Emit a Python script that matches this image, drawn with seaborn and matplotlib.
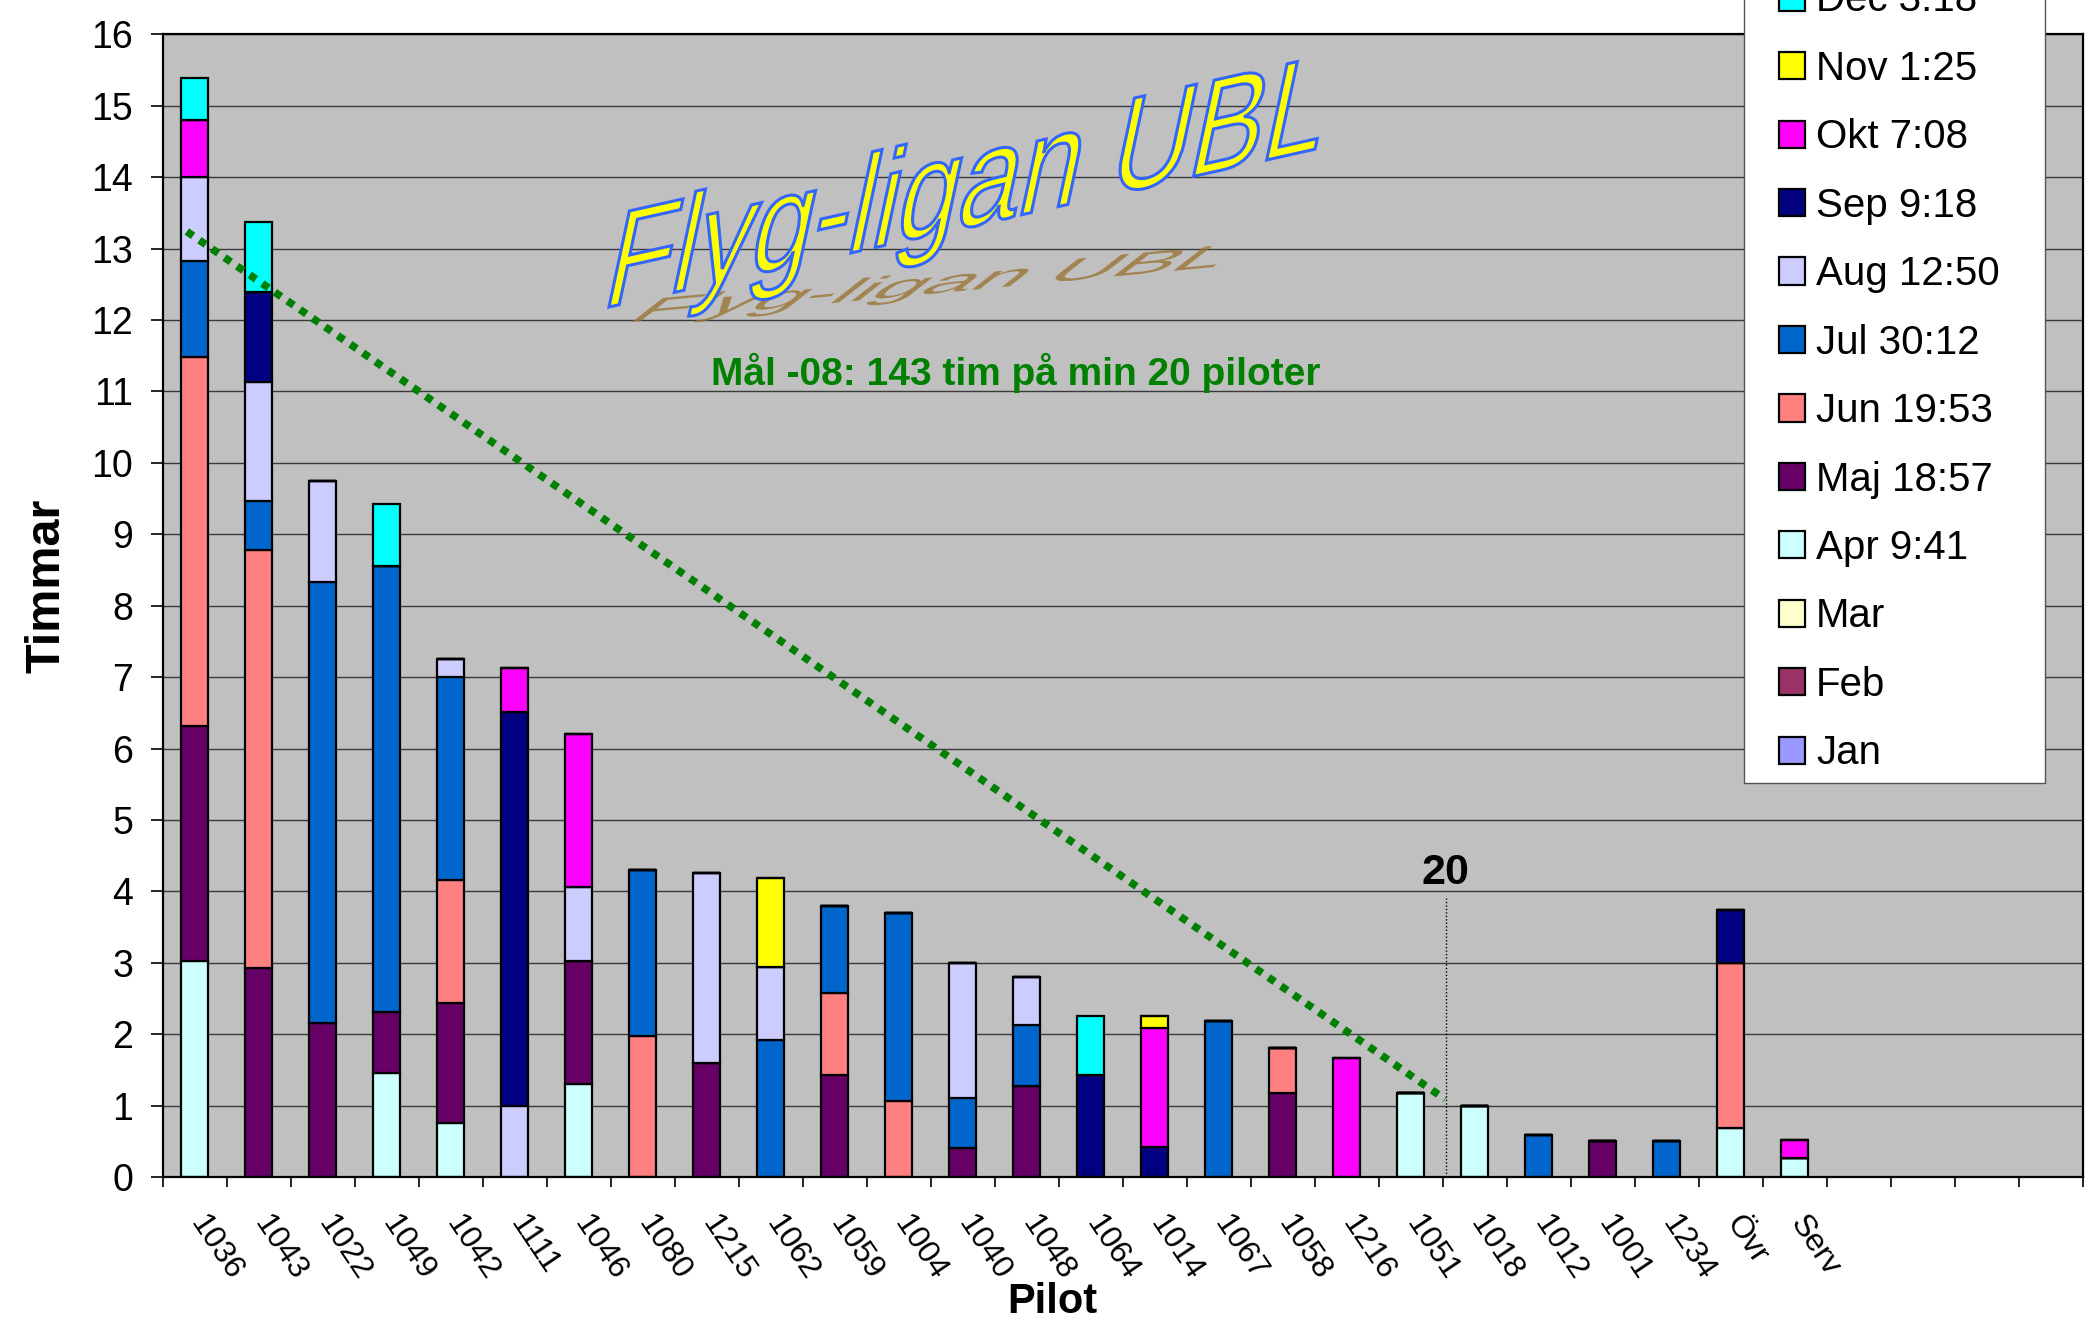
import numpy as np
import matplotlib
matplotlib.use("Agg")
import matplotlib.pyplot as plt
import seaborn as sns
from matplotlib.textpath import TextPath
from matplotlib.font_manager import FontProperties
from matplotlib.patches import PathPatch, Rectangle
from matplotlib.transforms import Affine2D, IdentityTransform, ScaledTranslation

plt.rcParams["font.family"] = ["Liberation Sans", "DejaVu Sans"]

# pilots in chart order
pilots = ["1036", "1043", "1022", "1049", "1042", "1111", "1046", "1080", "1215", "1062",
          "1059", "1004", "1040", "1048", "1064", "1014", "1067", "1058", "1216", "1051",
          "1018", "1012", "1001", "1234", "Övr", "Serv"]

# hours per month for each pilot
jan = [0] * 26
feb = [0] * 26
mar = [0] * 26
apr = [3.03, 0, 0, 1.46, 0.76, 0, 1.30, 0, 0, 0, 0, 0, 0, 0, 0, 0, 0, 0, 0, 1.17, 1.00, 0, 0, 0, 0.69, 0.27]
maj = [3.28, 2.92, 2.16, 0.85, 1.68, 0, 1.72, 0, 1.60, 0, 1.43, 0, 0.41, 1.27, 0, 0, 0, 1.18, 0, 0, 0, 0, 0.50, 0, 0, 0]
jun = [5.17, 5.86, 0, 0, 1.72, 0, 0, 1.97, 0, 0, 1.14, 1.06, 0, 0, 0, 0, 0, 0.62, 0, 0, 0, 0, 0, 0, 2.31, 0]
jul = [1.35, 0.69, 6.17, 6.24, 2.84, 0, 0, 2.33, 0, 1.92, 1.23, 2.63, 0.69, 0.86, 0, 0, 2.18, 0, 0, 0, 0, 0.585, 0, 0.50, 0, 0]
aug = [1.18, 1.66, 1.41, 0, 0.26, 1.00, 1.04, 0, 2.65, 1.02, 0, 0, 1.90, 0.67, 0, 0, 0, 0, 0, 0, 0, 0, 0, 0, 0, 0]
sep = [0, 1.26, 0, 0, 0, 5.51, 0, 0, 0, 0, 0, 0, 0, 0, 1.43, 0.42, 0, 0, 0, 0, 0, 0, 0, 0, 0.74, 0]
okt = [0.79, 0, 0, 0, 0, 0.62, 2.14, 0, 0, 0, 0, 0, 0, 0, 0, 1.67, 0, 0, 1.67, 0, 0, 0, 0, 0, 0, 0.25]
nov = [0, 0, 0, 0, 0, 0, 0, 0, 0, 1.24, 0, 0, 0, 0, 0, 0.16, 0, 0, 0, 0, 0, 0, 0, 0, 0, 0]
dec = [0.59, 0.99, 0, 0.87, 0, 0, 0, 0, 0, 0, 0, 0, 0, 0, 0.82, 0, 0, 0, 0, 0, 0, 0, 0, 0, 0, 0]

series = [jan, feb, mar, apr, maj, jun, jul, aug, sep, okt, nov, dec]
month_labels = ["Jan", "Feb", "Mar", "Apr 9:41", "Maj 18:57", "Jun 19:53", "Jul 30:12",
                "Aug 12:50", "Sep 9:18", "Okt 7:08", "Nov 1:25", "Dec 3:18"]
month_colors = ["#9999FF", "#993366", "#FFFFCC", "#CCFFFF", "#660066", "#FF8080", "#0066CC",
                "#CCCCFF", "#000080", "#FF00FF", "#FFFF00", "#00FFFF"]

# goal line: 143 h over at least 20 pilots
goal_x = [-0.12, 19.54]
goal_y = [13.24, 1.09]
mark_pos = 19.55
mark_top = 3.9

W, H = 2089, 1319
fig = plt.figure(figsize=(W / 100, H / 100), dpi=100)
ax = fig.add_axes([162.5 / W, 142 / H, 1920 / W, 1142.6 / H])
ax.set_facecolor("#C0C0C0")

bottom = np.zeros(len(pilots))
for vals, lab, col in zip(series, month_labels, month_colors):
    vals = np.array(vals, dtype=float)
    sns.barplot(x=pilots, y=vals, order=pilots, color=col, saturation=1, width=0.42,
                bottom=bottom, edgecolor="black", linewidth=1.6, errorbar=None,
                label=lab, ax=ax, zorder=2)
    bottom += vals

# goal line and the "20" marker
ax.plot(goal_x, goal_y, color="#008000", lw=5.5, linestyle=(0, (1, 1)),
        dash_capstyle="butt", zorder=4)
ax.plot([mark_pos, mark_pos], [0, mark_top], color="black", lw=1, linestyle=(0, (1, 1.5)), zorder=4)
ax.text(mark_pos, 4.25, "20", ha="center", va="center", fontsize=31, fontweight="bold", zorder=5)

ax.set_xlim(-0.5, 29.5)
ax.set_ylim(0, 16)
ax.set_yticks(range(17))
ax.set_xticks(range(len(pilots)))
ax.set_xticklabels(pilots, rotation=-56, ha="left", va="center", rotation_mode="anchor", fontsize=23)
ax.set_xticks(np.arange(-0.5, 30, 1), minor=True)
ax.tick_params(axis="x", which="major", length=0, pad=30)
ax.tick_params(axis="x", which="minor", length=7, width=1.2, direction="out")
ax.tick_params(axis="y", length=9, width=1.2, pad=12, labelsize=27)
for lbl in ax.get_xticklabels():
    lbl.set_transform(lbl.get_transform() + ScaledTranslation(2 / 100, 0, fig.dpi_scale_trans))

ax.yaxis.grid(True, color="#3a3a3a", lw=1.0)
ax.xaxis.grid(False)
ax.set_axisbelow(True)
for sp in ax.spines.values():
    sp.set_color("black")
    sp.set_linewidth(1.6)
ax.set_xlabel("")
ax.set_ylabel("")

fig.text(60 / W, 733 / H, "Timmar", rotation=90, rotation_mode="anchor", ha="center",
         va="baseline", fontsize=35, fontweight="bold")
fig.text(1052 / W, 6 / H, "Pilot", ha="center", va="baseline", fontsize=30, fontweight="bold")

ax.text(1016 / W, (H - 385) / H, "Mål -08: 143 tim på min 20 piloter", transform=fig.transFigure,
        ha="center", va="baseline", fontsize=28, fontweight="bold", color="#008000", zorder=5)


def wordart(text, x0, y0, width, cap, lean, slope, **kw):
    tp = TextPath((0, 0), text, size=1, prop=FontProperties(family="Liberation Sans"))
    ext = tp.get_extents()
    tf = (Affine2D().translate(-ext.x0, 0).scale(width / ext.width, cap / 0.716)
          .skew_deg(lean, slope).translate(x0, y0))
    patch = PathPatch(tf.transform_path(tp), transform=IdentityTransform(), **kw)
    fig.add_artist(patch)


# shadow first, then the yellow title on top
wordart("Flyg-ligan UBL", 632, H - 322, 581, 25, 52, 5.4,
        facecolor="#9A7535", edgecolor="none", alpha=0.8, zorder=6)
wordart("Flyg-ligan UBL", 609, H - 307, 706, 100, 12, 12.6,
        facecolor="#FFFF00", edgecolor="#3366FF", lw=2.2, zorder=7)

# legend box runs off the top of the figure, as in the original
ax.add_patch(Rectangle((1744 / W, (H - 783) / H), 301 / W, 783 / H + 0.1, transform=fig.transFigure,
                       facecolor="white", edgecolor="#555555", lw=1.0, clip_on=False, zorder=9))
handles, labels = ax.get_legend_handles_labels()
leg = ax.legend(handles[::-1], labels[::-1], loc="lower left",
                bbox_to_anchor=(1744 / W, (H - 807) / H, 301 / W, 0), bbox_transform=fig.transFigure,
                mode="expand", borderaxespad=0, fontsize=29, handlelength=0.66, handleheight=0.66,
                handletextpad=0.27, labelspacing=0.756, borderpad=0.86, frameon=False)
leg.set_zorder(10)

fig.savefig("out.png", dpi=100, facecolor="white")
